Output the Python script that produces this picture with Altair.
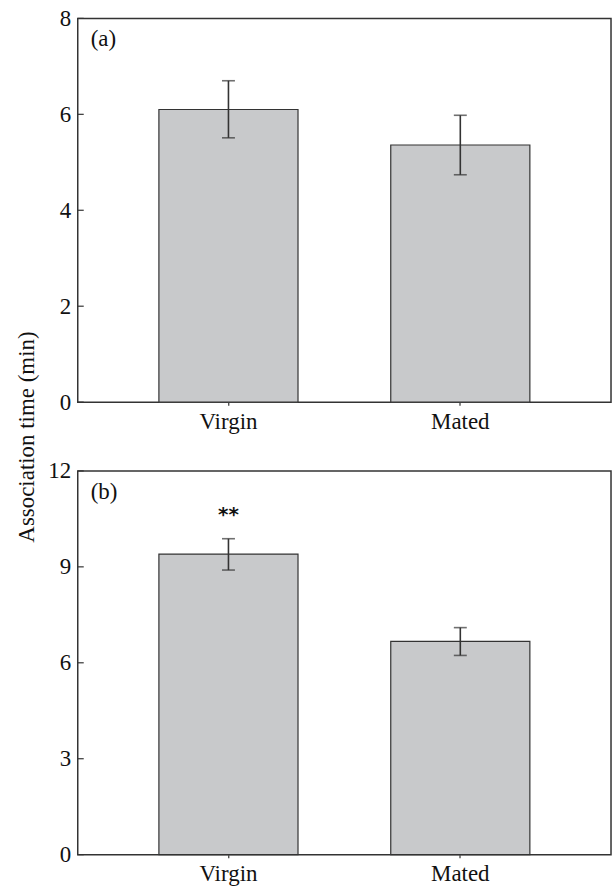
import altair as alt
import pandas as pd

conditions = ["Virgin", "Mated"]
mean_a = [6.10, 5.36]
low_a = [5.51, 4.74]
high_a = [6.70, 5.98]
mean_b = [9.40, 6.67]
low_b = [8.90, 6.23]
high_b = [9.88, 7.10]
yticks_a = [0, 2, 4, 6, 8]
yticks_b = [0, 3, 6, 9, 12]
panel_labels = ["(a)", "(b)"]
sig_marks = ["**", ""]
sig_y = [10.7, None]
y_title = "Association time (min)"

FONT = "Liberation Serif"
INK = "#333333"
TXT = "#111111"
FS = 23


def panel(mean, lo, hi, ymax, yticks, label, title=None, sig=None):
    df = pd.DataFrame({"cond": conditions, "mean": mean, "lo": lo, "hi": hi})
    xs = alt.Scale(domain=conditions, paddingInner=0.4, paddingOuter=0.35)
    xaxis = alt.Axis(title=None, labelAngle=0, labelFont=FONT, labelFontSize=FS,
                     labelColor=TXT, tickSize=3, tickColor=INK, tickWidth=1.2,
                     domain=False, labelPadding=5)
    xenc = alt.X("cond:N", sort=conditions, scale=xs, axis=xaxis)
    ys = alt.Scale(domain=[0, ymax], nice=False, zero=True)
    axis_kw = dict(values=yticks, ticks=False, domain=False, grid=False,
                   labelFont=FONT, labelFontSize=FS, labelColor=TXT, labelPadding=7)
    if title:
        axis_kw.update(title=title, titleFont=FONT, titleFontSize=FS,
                       titleFontWeight="normal", titleColor=TXT, titleX=-44,
                       titleY=419.5, titleAngle=270, titleBaseline="alphabetic",
                       titleAlign="center")
    else:
        axis_kw.update(title=None)
    yaxis = alt.Axis(**axis_kw)

    def Y(field):
        return alt.Y(field, scale=ys, axis=yaxis)

    base = alt.Chart(df)
    bars = base.mark_bar(fill="#c8c9cb", stroke=INK, strokeWidth=1.2).encode(
        x=xenc, y=Y("mean:Q")
    )
    rule = base.mark_rule(color=INK, strokeWidth=1.6).encode(
        x=xenc, y=Y("lo:Q"), y2="hi:Q"
    )
    cap_lo = base.mark_tick(color=INK, size=13, thickness=1.6).encode(
        x=xenc, y=Y("lo:Q")
    )
    cap_hi = base.mark_tick(color=INK, size=13, thickness=1.6).encode(
        x=xenc, y=Y("hi:Q")
    )
    tick_df = pd.DataFrame({"v": yticks})
    yt = alt.Chart(tick_df).mark_rule(color=INK, strokeWidth=1.2).encode(
        y=Y("v:Q"), x=alt.value(0), x2=alt.value(6)
    )
    lab = alt.Chart(pd.DataFrame({"t": [label]})).mark_text(
        align="left", baseline="alphabetic", font=FONT, fontSize=FS, color=TXT
    ).encode(x=alt.value(13), y=alt.value(28), text="t:N")
    layers = [bars, rule, cap_lo, cap_hi, yt, lab]
    if sig is not None:
        sdf = pd.DataFrame({"cond": [conditions[0]], "y": [sig[1]], "t": [sig[0]]})
        star = alt.Chart(sdf).mark_text(
            font="DejaVu Sans", fontWeight="bold", fontSize=20, color=TXT,
            baseline="middle", dy=3
        ).encode(x=xenc, y=Y("y:Q"), text="t:N")
        layers.append(star)
    return alt.layer(*layers).properties(width=535, height=385)


pa = panel(mean_a, low_a, high_a, 8, yticks_a, panel_labels[0], title=y_title)
pb = panel(mean_b, low_b, high_b, 12, yticks_b, panel_labels[1],
           sig=(sig_marks[0], sig_y[0]))

chart = (
    alt.vconcat(pa, pb, spacing=69, bounds="flush")
    .properties(padding={"left": 15, "top": 5, "right": 4, "bottom": 2},
                background="white")
    .configure_view(stroke=INK, strokeWidth=1.5)
)

chart.save("out.html", embed_options={"renderer": "svg", "actions": False})
